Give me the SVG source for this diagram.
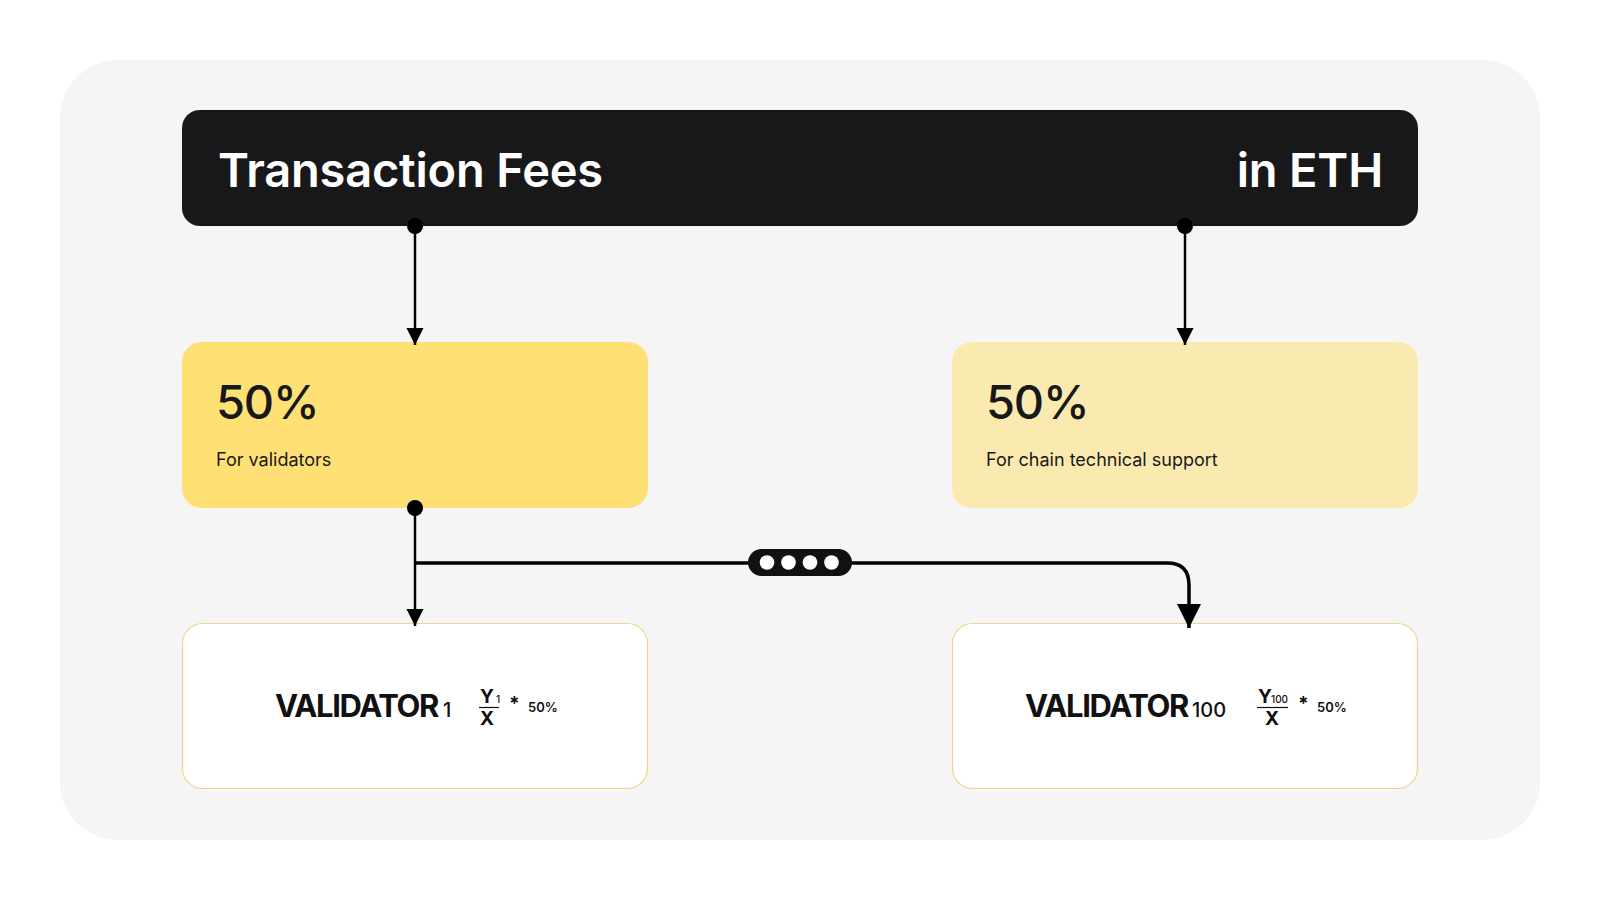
<svg xmlns="http://www.w3.org/2000/svg" width="1600" height="900" viewBox="0 0 1600 900">
<style>
.t{font-family:Inter,"Noto Sans","Liberation Sans",sans-serif;}
.hdr{fill:#FFFFFF;font-size:47px;font-weight:600;letter-spacing:-0.2px;}
.pct{fill:#18181B;font-size:47px;font-weight:500;letter-spacing:-1.2px;}
.sub{fill:#18181B;font-size:18px;font-weight:400;}
.val{fill:#111111;font-size:31px;font-weight:700;letter-spacing:-1.4px;}
.num{fill:#111111;font-size:20px;font-weight:500;}
.fr{fill:#111111;font-size:19px;font-weight:700;}
.frs{fill:#111111;font-size:10px;font-weight:500;}
.sm{fill:#111111;font-size:13px;font-weight:600;}
.ln{stroke:#000;stroke-width:2.5;fill:none;}
.lnb{stroke:#000;stroke-width:3.5;fill:none;}
.vbox{fill:#FFFFFF;stroke:#EFD68A;stroke-width:1.2;}
</style>
<defs>
<marker id="arr" viewBox="0 0 10 10" refX="10" refY="5" markerWidth="7" markerHeight="7" markerUnits="strokeWidth" orient="auto">
<path d="M0,0 L10,5 L0,10 Z" fill="#000"/>
</marker>
</defs>
<rect x="0" y="0" width="1600" height="900" fill="#FFFFFF"/>
<rect x="60" y="60" width="1480" height="780" rx="58" fill="#F5F5F5"/>

<g id="header">
<rect x="182" y="110" width="1236" height="116" rx="18" fill="#18181B"/>
<text class="t hdr" x="218" y="187">Transaction Fees</text>
<text class="t hdr" x="1383" y="187" text-anchor="end">in ETH</text>
</g>

<g id="validators-share">
<rect x="182" y="342" width="466" height="166" rx="20" fill="#FEE074"/>
<text class="t pct" x="216" y="419">50%</text>
<text class="t sub" x="216" y="466">For validators</text>
</g>

<g id="support-share">
<rect x="952" y="342" width="466" height="166" rx="20" fill="#FBEAB0"/>
<text class="t pct" x="986" y="419">50%</text>
<text class="t sub" x="986" y="466">For chain technical support</text>
</g>

<g id="validator-1">
<rect class="vbox" x="182.5" y="623.5" width="465" height="165" rx="20"/>
<text class="t val" x="275" y="717">VALIDATOR</text>
<text class="t num" x="443" y="717">1</text>
<text class="t fr" x="480" y="703">Y</text>
<text class="t frs" x="496" y="703">1</text>
<line x1="479" y1="707.5" x2="499" y2="707.5" stroke="#111" stroke-width="1.2"/>
<text class="t fr" x="480" y="725">X</text>
<text class="t fr" x="509" y="710">*</text>
<text class="t sm" x="528" y="712">50%</text>
</g>

<g id="validator-100">
<rect class="vbox" x="952.5" y="623.5" width="465" height="165" rx="20"/>
<text class="t val" x="1025" y="717">VALIDATOR</text>
<text class="t num" x="1192" y="717">100</text>
<text class="t fr" x="1258" y="703">Y</text>
<text class="t frs" x="1271" y="703">100</text>
<line x1="1257" y1="707.5" x2="1288" y2="707.5" stroke="#111" stroke-width="1.2"/>
<text class="t fr" x="1265" y="725">X</text>
<text class="t fr" x="1298" y="710">*</text>
<text class="t sm" x="1317" y="712">50%</text>
</g>

<g id="connectors">
<circle cx="415" cy="226" r="8" fill="#000"/>
<line class="ln" x1="415" y1="226" x2="415" y2="345" marker-end="url(#arr)"/>
<circle cx="1185" cy="226" r="8" fill="#000"/>
<line class="ln" x1="1185" y1="226" x2="1185" y2="345" marker-end="url(#arr)"/>
<circle cx="415" cy="508" r="8" fill="#000"/>
<line class="ln" x1="415" y1="508" x2="415" y2="626" marker-end="url(#arr)"/>
<path class="lnb" d="M415,563 H1167 Q1189,563 1189,585 V628" marker-end="url(#arr)"/>
<g id="ellipsis">
<rect x="748" y="549" width="104" height="27" rx="13.5" fill="#111"/>
<circle cx="767" cy="562.5" r="7.3" fill="#FFF"/>
<circle cx="788.5" cy="562.5" r="7.3" fill="#FFF"/>
<circle cx="810" cy="562.5" r="7.3" fill="#FFF"/>
<circle cx="831.5" cy="562.5" r="7.3" fill="#FFF"/>
</g>
</g>
</svg>
